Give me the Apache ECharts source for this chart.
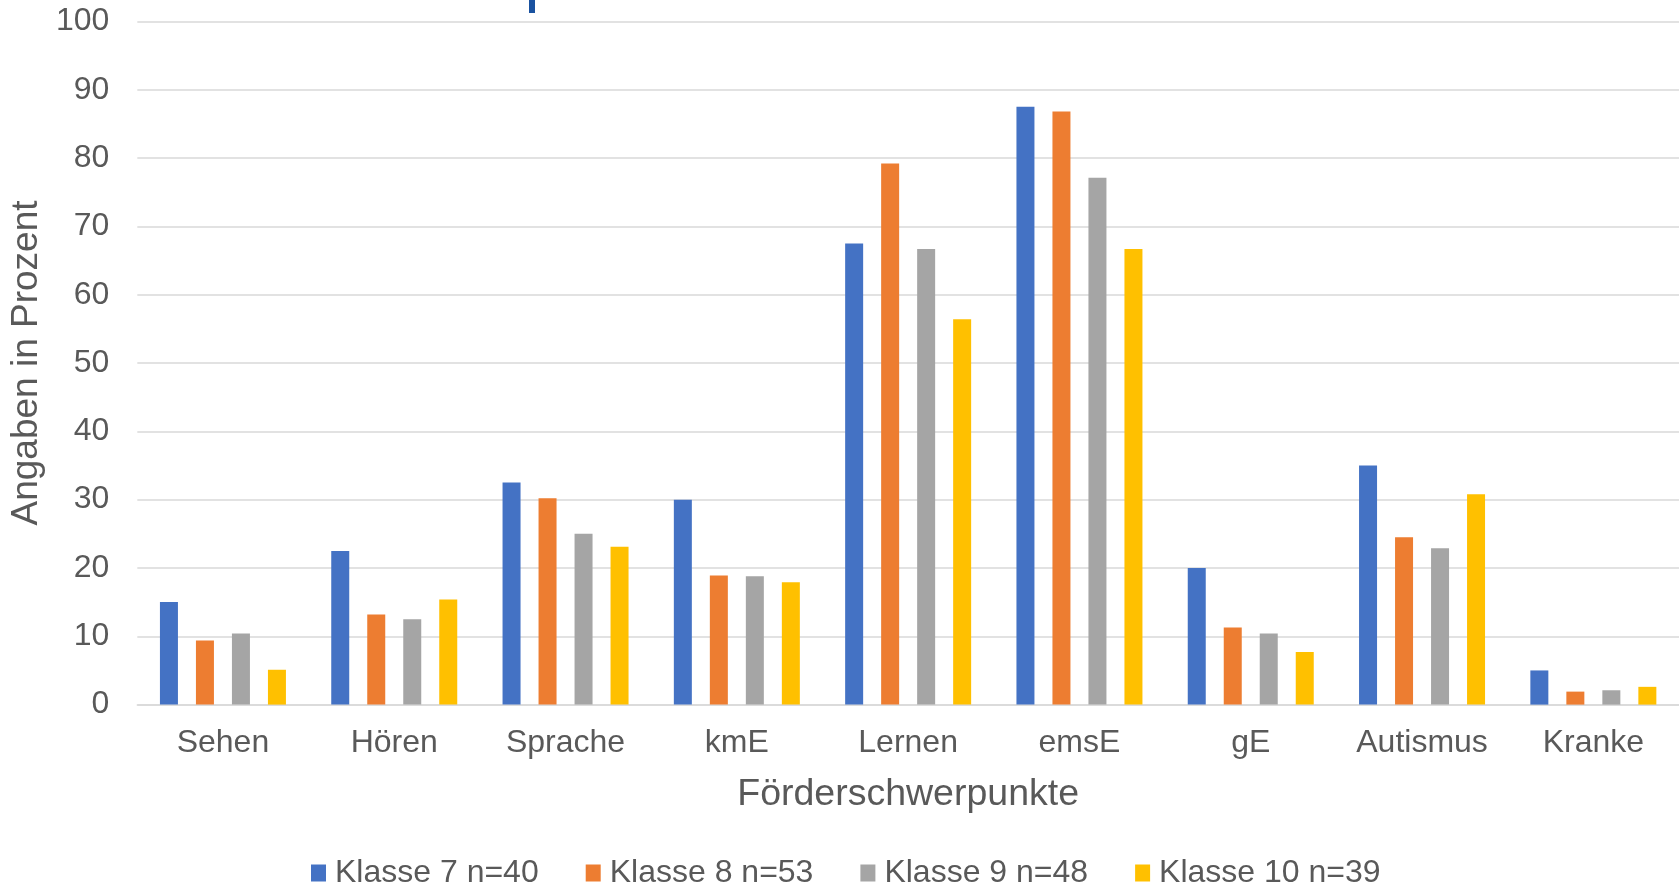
<!DOCTYPE html>
<html>
<head>
<meta charset="utf-8">
<script src="https://cdn.jsdelivr.net/npm/echarts@6/dist/echarts.min.js"></script>
<style>
  html, body { margin: 0; padding: 0; background: #ffffff; }
  #chart { width: 1679px; height: 886px; }
</style>
</head>
<body>
<div id="chart"></div>
<script>
// Förderschwerpunkte nach Klassenstufe (Angaben in Prozent)
const categories = ['Sehen', 'Hören', 'Sprache', 'kmE', 'Lernen', 'emsE', 'gE', 'Autismus', 'Kranke'];
const seriesNames = ['Klasse 7 n=40', 'Klasse 8 n=53', 'Klasse 9 n=48', 'Klasse 10 n=39'];
const klasse7 = [15.0, 22.5, 32.5, 30.0, 67.5, 87.5, 20.0, 35.0, 5.0];
const klasse8 = [9.4, 13.2, 30.2, 18.9, 79.2, 86.8, 11.3, 24.5, 1.9];
const klasse9 = [10.4, 12.5, 25.0, 18.8, 66.7, 77.1, 10.4, 22.9, 2.1];
const klasse10 = [5.1, 15.4, 23.1, 17.9, 56.4, 66.7, 7.7, 30.8, 2.6];
const yTicks = { min: 0, max: 100, interval: 10 };

const colors = ['#4472C4', '#ED7D31', '#A5A5A5', '#FFC000'];
const textColor = '#595959';
const fontFamily = '"Liberation Sans", Arial, sans-serif';

const chart = echarts.init(document.getElementById('chart'), null, { renderer: 'canvas' });

const values = [klasse7, klasse8, klasse9, klasse10];

chart.setOption({
  animation: false,
  backgroundColor: '#ffffff',
  color: colors,
  textStyle: { fontFamily: fontFamily, color: textColor },
  grid: { left: 135, right: 0, top: 21.4, bottom: 181.4, containLabel: false },
  legend: {
    data: seriesNames,
    left: 306,
    top: 852,
    icon: 'rect',
    itemWidth: 15,
    itemHeight: 17,
    itemGap: 47,
    textStyle: { fontSize: 32, color: textColor, fontFamily: fontFamily, padding: [0, 0, 0, 4] }
  },
  xAxis: {
    type: 'category',
    data: categories,
    name: 'Förderschwerpunkte',
    nameLocation: 'middle',
    nameGap: 71,
    nameTextStyle: { fontSize: 37.5, color: textColor, fontFamily: fontFamily },
    axisLine: { show: true, lineStyle: { color: '#D9D9D9', width: 1.5 } },
    axisTick: { show: false },
    axisLabel: { fontSize: 32, color: textColor, margin: 23, fontFamily: fontFamily }
  },
  yAxis: {
    type: 'value',
    min: yTicks.min,
    max: yTicks.max,
    interval: yTicks.interval,
    name: 'Angaben in Prozent',
    nameLocation: 'middle',
    nameGap: 92,
    nameRotate: 90,
    nameTextStyle: { fontSize: 37, color: textColor, fontFamily: fontFamily },
    axisLine: { show: false },
    axisTick: { show: false },
    axisLabel: { fontSize: 32, color: textColor, margin: 28, fontFamily: fontFamily },
    splitLine: { show: true, lineStyle: { color: '#D9D9D9', width: 1.5 } }
  },
  series: seriesNames.map((name, i) => ({
    name: name,
    type: 'bar',
    data: values[i],
    barWidth: 18,
    barGap: '100%',
    itemStyle: { color: colors[i] }
  })),
  graphic: [{
    type: 'rect',
    left: 529,
    top: 0,
    shape: { width: 6, height: 13 },
    style: { fill: '#1A52A0' },
    silent: true
  }]
});
</script>
</body>
</html>
